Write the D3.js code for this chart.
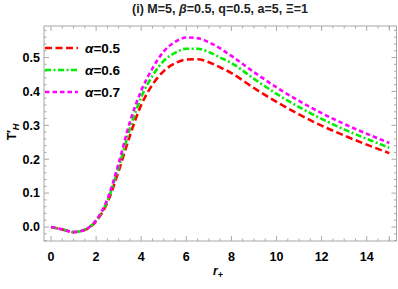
<!DOCTYPE html>
<html>
<head>
<meta charset="utf-8">
<script src="https://cdn.jsdelivr.net/npm/d3@7"></script>
<style>
  body { margin: 0; background: #fff; }
  svg { display: block; font-family: "Liberation Sans", Arial, sans-serif; }
</style>
</head>
<body>
<svg id="chart" width="398" height="289"></svg>
<script>
// r+ sample points
const rPlus = [0, 0.5, 1, 1.5, 2, 2.5, 3, 3.5, 4, 4.5, 5, 5.5, 6, 6.5, 7, 7.5, 8, 9, 10, 11, 12, 13, 14, 15];
const alpha05 = [0, -0.007, -0.015, -0.009, 0.017, 0.072, 0.165, 0.27, 0.36, 0.42, 0.46, 0.483, 0.494, 0.495, 0.486, 0.471, 0.454, 0.41, 0.369, 0.332, 0.299, 0.27, 0.243, 0.218];
const alpha06 = [0, -0.007, -0.015, -0.008, 0.019, 0.077, 0.176, 0.29, 0.383, 0.446, 0.49, 0.514, 0.526, 0.526, 0.516, 0.5, 0.484, 0.437, 0.393, 0.354, 0.319, 0.288, 0.26, 0.234];
const alpha07 = [0, -0.007, -0.015, -0.008, 0.02, 0.082, 0.188, 0.31, 0.402, 0.468, 0.518, 0.546, 0.559, 0.557, 0.545, 0.527, 0.505, 0.457, 0.412, 0.372, 0.336, 0.304, 0.275, 0.248];
const seriesNames = ['α=0.5', 'α=0.6', 'α=0.7'];
const xTicks = [0, 2, 4, 6, 8, 10, 12, 14];
const yTicks = [0.0, 0.1, 0.2, 0.3, 0.4, 0.5];

const width = 398, height = 289;
const margin = { top: 26, right: 1.5, bottom: 48, left: 44 };

const svg = d3.select('#chart');

const x = d3.scaleLinear()
  .domain([-0.31, 15.32])
  .range([margin.left, width - margin.right]);

const y = d3.scaleLinear()
  .domain([-0.0413, 0.593])
  .range([height - margin.bottom, margin.top]);

const frameColor = '#a8a8a8';

// frame
svg.append('rect')
  .attr('x', x.range()[0])
  .attr('y', y.range()[1])
  .attr('width', x.range()[1] - x.range()[0])
  .attr('height', y.range()[0] - y.range()[1])
  .attr('fill', 'none')
  .attr('stroke', frameColor)
  .attr('stroke-width', 1);

// ticks (inward, on all four sides)
const xMinor = d3.range(0, 15.01, 0.5).filter(v => !xTicks.includes(v));
const yMinor = d3.range(-0.04, 0.591, 0.02).map(v => Math.round(v * 100) / 100)
  .filter(v => !yTicks.some(t => Math.abs(t - v) < 1e-6));

const ticks = svg.append('g').attr('stroke', frameColor).attr('stroke-width', 1);
const y0 = y.range()[0], y1 = y.range()[1];
const x0 = x.range()[0], x1 = x.range()[1];

[[xTicks.concat([15]), 5], [xMinor, 2.5]].forEach(([vals, len]) => {
  ticks.selectAll(null).data(vals).join('line')
    .attr('x1', d => x(d)).attr('x2', d => x(d))
    .attr('y1', y0).attr('y2', y0 - len);
  ticks.selectAll(null).data(vals).join('line')
    .attr('x1', d => x(d)).attr('x2', d => x(d))
    .attr('y1', y1).attr('y2', y1 + len);
});
[[yTicks, 5], [yMinor, 2.5]].forEach(([vals, len]) => {
  ticks.selectAll(null).data(vals).join('line')
    .attr('y1', d => y(d)).attr('y2', d => y(d))
    .attr('x1', x0).attr('x2', x0 + len);
  ticks.selectAll(null).data(vals).join('line')
    .attr('y1', d => y(d)).attr('y2', d => y(d))
    .attr('x1', x1).attr('x2', x1 - len);
});

// tick labels
svg.append('g')
  .attr('font-size', 12.5)
  .attr('font-weight', 'bold')
  .attr('text-anchor', 'middle')
  .selectAll('text')
  .data(xTicks)
  .join('text')
  .attr('x', d => x(d))
  .attr('y', y0 + 20)
  .text(d => d);

svg.append('g')
  .attr('font-size', 12.5)
  .attr('font-weight', 'bold')
  .attr('text-anchor', 'end')
  .selectAll('text')
  .data(yTicks)
  .join('text')
  .attr('x', x0 - 4)
  .attr('y', d => y(d))
  .attr('dy', '0.35em')
  .text(d => d.toFixed(1));

// series
const colors = ['#ff0000', '#00ee00', '#ff00ff'];
const dashes = ['7,3.5', '6,2.5,2,2.5', '4.5,3'];
const series = [alpha05, alpha06, alpha07].map((vals, i) => ({
  name: seriesNames[i],
  color: colors[i],
  dash: dashes[i],
  values: rPlus.map((r, j) => ({ r, v: vals[j] }))
}));

const line = d3.line()
  .x(d => x(d.r))
  .y(d => y(d.v))
  .curve(d3.curveMonotoneX);

svg.append('g')
  .selectAll('path')
  .data(series)
  .join('path')
  .attr('fill', 'none')
  .attr('stroke', d => d.color)
  .attr('stroke-width', 2.6)
  .attr('stroke-dasharray', d => d.dash)
  .attr('d', d => line(d.values));

// legend
const legend = svg.append('g');
const legendY = [48, 70, 92];
series.forEach((s, i) => {
  legend.append('line')
    .attr('x1', 45).attr('x2', 78)
    .attr('y1', legendY[i]).attr('y2', legendY[i])
    .attr('stroke', s.color)
    .attr('stroke-width', 2.6)
    .attr('stroke-dasharray', s.dash);
  const t = legend.append('text')
    .attr('x', 85)
    .attr('y', legendY[i])
    .attr('dy', '0.35em')
    .attr('font-size', 13.5)
    .attr('font-weight', 'bold');
  t.append('tspan').attr('font-style', 'italic').text('α');
  t.append('tspan').text(s.name.slice(1));
});

// title
const title = svg.append('text')
  .attr('x', 220)
  .attr('y', 13)
  .attr('text-anchor', 'middle')
  .attr('font-size', 12.5)
  .attr('font-weight', 'bold')
  .attr('fill', '#222');
title.append('tspan').text('(i) M=5, ');
title.append('tspan').attr('font-style', 'italic').text('β');
title.append('tspan').text('=0.5, q=0.5, a=5, Ξ=1');

// axis labels
const xl = svg.append('text')
  .attr('x', 218)
  .attr('y', 275)
  .attr('text-anchor', 'middle')
  .attr('font-size', 12)
  .attr('font-weight', 'bold')
  .attr('font-style', 'italic');
xl.append('tspan').text('r');
xl.append('tspan').attr('font-size', 9).attr('dy', 3).attr('font-style', 'normal').text('+');

const yl = svg.append('text')
  .attr('transform', 'translate(16,132) rotate(-90)')
  .attr('text-anchor', 'middle')
  .attr('font-size', 12)
  .attr('font-weight', 'bold');
yl.append('tspan').text('T\u2032');
yl.append('tspan').attr('font-size', 9).attr('dy', 3).attr('font-style', 'italic').text('H');
</script>
</body>
</html>
